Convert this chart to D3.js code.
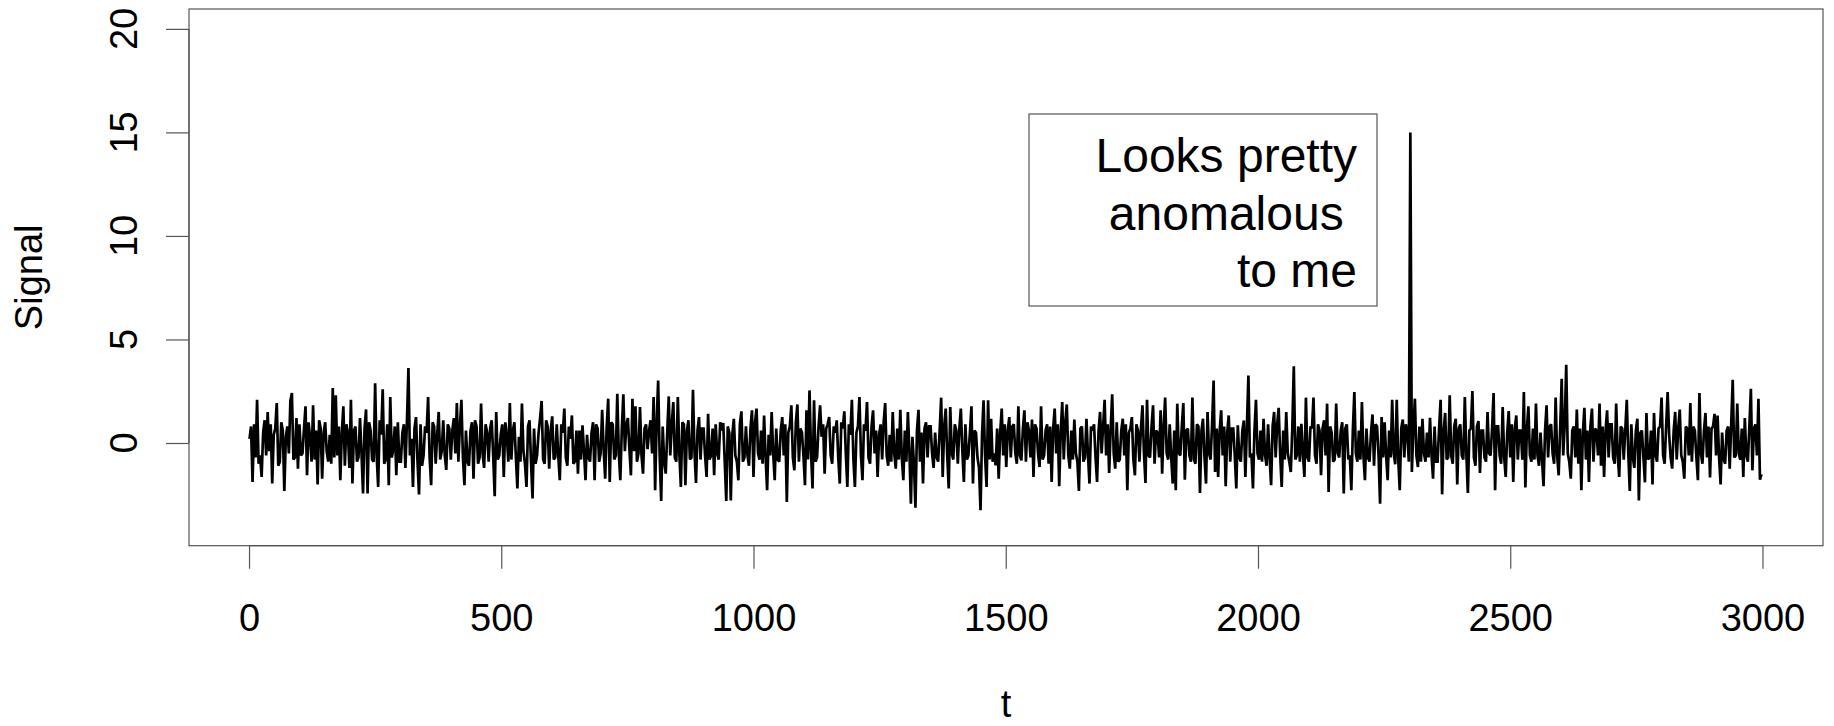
<!DOCTYPE html>
<html>
<head>
<meta charset="utf-8">
<script src="https://cdn.jsdelivr.net/npm/d3@7"></script>
<style>
  body { margin: 0; background: #fff; }
  text { font-family: "Liberation Sans", Arial, sans-serif; fill: #000; }
</style>
</head>
<body>
<script>
// canvas
const width = 1834;
const height = 726;

// data: signal, one value every tStep steps of t
const tStart = 1;
const tStep = 3;
const signal = [
  0.2, 0.8, -1.88, 0.9, -0.7, 2.09, -1.0, -0.6, -1.64, 0.5,
  1.1, -0.6, 1.5, -0.4, 0.9, -1.96, 0.4, 0.7, 1.93, -1.1,
  -0.9, 1.0, 0.6, -2.32, 0.3, 0.8, -0.5, 2.03, 2.41, -0.8,
  -0.7, 1.2, -1.24, 0.9, -0.6, -0.5, 0.7, 1.77, -1.56, 1.0,
  0.3, -0.9, 1.82, -0.8, 0.6, -2.0, 1.1, 0.7, -1.72, 0.5,
  1.0, -0.4, -0.9, 0.4, -1.0, 2.65, -0.7, 2.3, -0.6, 0.8,
  -1.8, 0.5, 1.77, -1.1, 0.9, 0.5, -1.2, 2.09, -1.96, 0.6,
  0.8, -0.9, -0.7, 1.2, -0.5, -2.44, 0.7, 1.62, -2.44, 1.0,
  0.6, -0.8, -0.9, 2.89, -0.6, -2.12, 1.1, 0.4, 2.59, -1.0,
  -0.8, 0.9, -2.04, 2.22, -0.7, -0.3, 0.8, -1.56, 1.0, -0.9,
  -0.9, 0.5, 0.9, -1.2, 1.0, 3.62, -0.6, 0.2, -2.12, 0.7,
  1.25, -0.9, -2.48, 0.9, -1.1, -0.6, 0.8, 0.5, 2.22, -0.7,
  -2.04, 1.0, 0.8, -1.0, 0.4, 1.5, -0.8, -0.4, 1.1, -0.6,
  -1.3, 0.9, 0.7, -0.8, 0.6, 1.2, -0.5, 1.93, -0.9, 0.8,
  2.09, -0.7, -2.04, 0.6, -0.9, -1.1, 0.6, 1.0, -1.72, 1.1,
  0.8, -1.0, -0.7, 1.9, -0.5, -1.2, 0.9, 0.5, -0.9, 0.7,
  1.1, -0.6, -2.57, 1.5, -0.8, -0.6, 0.4, 0.9, -1.64, 1.0,
  0.4, -0.9, 1.93, -0.8, 0.6, 1.0, -0.7, -2.2, 0.3, -0.9,
  1.9, -0.4, -1.0, -2.12, 0.8, 1.1, -0.9, -2.68, 0.7, -1.0,
  -0.6, 0.5, 1.2, 2.03, -0.8, -1.0, 1.1, 0.8, -1.24, 0.6,
  1.29, -0.8, -0.7, 0.9, -0.6, -1.8, 0.9, 0.5, 1.66, -0.7,
  -1.1, 0.8, 0.2, 1.33, -1.0, -0.9, 0.6, -1.48, 0.6, -0.8,
  0.85, -0.4, -1.8, 0.4, -0.7, -0.9, 0.5, 1.0, -1.8, 0.9,
  0.7, -0.9, -0.5, 1.6, -0.3, -1.72, 0.8, 2.14, -1.88, 1.0,
  0.9, -0.8, -0.6, 2.38, -0.5, -1.8, 0.7, 2.35, -0.4, 0.9,
  1.2, -0.3, -1.56, 2.14, -0.4, 1.77, -0.9, -0.5, 1.74, -0.6,
  -1.48, 0.7, 0.9, -0.3, 0.6, 1.1, -0.5, 2.22, -2.28, 1.0,
  3.02, -0.6, -2.8, 0.8, -0.9, -1.48, 0.5, 2.25, -0.6, 0.9,
  1.98, -0.7, -0.9, 2.22, -0.5, -2.12, 1.0, 0.9, -2.04, 0.6,
  1.1, -0.8, -0.7, 2.57, -0.4, -1.93, 0.6, 1.25, -0.8, 0.7,
  0.7, -0.6, -1.64, 1.41, -0.8, -0.6, 0.7, -1.56, 0.9, -0.5,
  -0.8, 1.0, 0.6, 0.96, -0.9, -2.8, 0.8, 0.5, -2.77, 0.4,
  1.17, -0.6, -0.9, -1.8, 0.9, 1.53, -0.9, -0.7, 0.8, -0.6,
  -1.1, 0.7, 1.58, -1.64, 1.0, 1.66, -0.5, -0.8, 0.6, -1.0,
  1.33, -0.7, -2.28, 0.4, -0.6, 1.5, -0.5, -1.8, 0.7, -0.8,
  -0.9, 0.6, 1.25, -0.6, 0.9, -2.85, 0.5, 0.8, 1.82, -0.7,
  -1.32, 1.0, 1.86, -0.9, 0.7, 0.5, -0.6, -2.04, 1.58, -0.8,
  2.54, -0.4, -2.2, 2.06, -0.9, -0.7, 0.8, 1.82, 0.3, 0.9,
  -1.48, 0.7, 0.9, 1.25, -0.6, -1.0, 0.8, 0.5, 1.09, -0.7,
  -1.96, 1.0, 0.7, 1.53, -0.5, -2.12, 0.9, 0.4, 2.09, -0.8,
  -2.12, 0.5, 0.8, 2.22, -0.6, -1.8, 0.9, 0.6, 1.98, -0.7,
  -1.0, 0.8, 1.58, -0.5, 0.6, -1.64, 0.4, 0.9, -0.8, 1.0,
  1.93, -0.6, -1.1, 0.4, -0.9, 1.5, -0.5, -1.24, 0.7, -0.8,
  1.6, -0.7, -1.8, 0.6, -0.9, 1.5, -0.4, -2.93, 0.3, -1.0,
  -3.12, 0.6, 1.6, -0.9, 0.5, -1.96, 0.7, 1.0, -0.7, 0.8,
  0.8, -0.5, -1.2, 0.5, -0.7, -0.9, 0.6, 2.19, -1.64, 0.8,
  1.66, -0.6, -2.2, 1.74, -0.5, -0.8, 0.9, 0.6, -1.0, 0.7,
  1.66, -0.4, -1.88, 0.9, -0.8, -0.6, 0.5, 1.77, -1.96, 0.6,
  0.5, -0.7, -1.2, -3.25, 0.4, 2.06, -0.6, -2.12, 2.06, -0.8,
  1.17, -0.9, -0.5, -1.08, 0.7, -1.72, 0.5, 1.66, -0.6, 0.9,
  -1.16, 0.6, 1.25, -0.7, 0.8, 0.9, -0.5, -1.0, 1.77, -0.6,
  -0.84, 0.7, 1.58, -0.9, 1.0, 0.6, -0.7, 1.13, -1.64, 0.9,
  0.7, -0.5, -1.16, 1.77, -0.8, -0.6, 0.6, 0.9, -1.0, 0.8,
  -1.88, 0.7, 1.66, -0.5, 0.9, -2.09, 0.6, 1.98, -0.8, 1.0,
  1.86, -0.6, -1.24, 0.6, -0.8, 1.13, -0.5, -0.9, -2.32, 0.7,
  0.8, -0.9, -0.7, 1.17, -0.6, -1.96, 0.8, 0.6, 0.9, -0.7,
  -1.88, 0.6, 1.5, -0.5, 0.8, 2.09, -0.6, 0.9, -1.45, 0.7,
  2.35, -0.5, -1.24, 1.0, -0.9, -0.8, 0.6, 1.17, -0.6, 0.9,
  -2.28, 0.5, 0.7, 1.25, -0.8, -1.56, 0.9, 0.6, -0.9, 0.7,
  1.82, -0.5, -1.93, 2.09, -0.6, -0.7, 0.8, 1.82, -1.0, 0.6,
  0.5, -0.7, 1.58, -1.48, 0.8, 2.19, -0.5, -0.8, 0.9, -0.7,
  -1.96, 0.6, -2.28, 1.9, -0.5, -0.6, 0.8, 1.93, -1.77, 0.6,
  0.7, -0.6, -0.9, 2.19, -0.8, -1.0, 0.9, 0.8, -2.41, 0.6,
  1.17, -0.7, -1.96, 1.5, -0.5, -0.8, 0.9, 3.02, -1.4, 0.7,
  -1.64, 0.6, 1.58, -0.6, 0.8, -2.09, 0.5, 1.33, -0.9, 0.7,
  0.7, -0.6, -2.2, 0.85, -0.7, -0.9, 0.6, 1.09, -1.64, 0.8,
  3.26, -0.7, -0.5, -2.2, 0.6, 2.09, -0.5, -0.8, 0.6, -0.9,
  1.17, -0.6, -1.1, 0.9, -0.7, -2.04, 0.8, 1.5, -0.7, 0.9,
  1.7, -0.6, -2.12, 0.6, -0.8, 1.5, -0.5, -0.9, -1.4, 0.7,
  3.7, -0.8, -0.6, 0.8, -0.9, 0.93, -0.5, -1.64, 2.19, -0.7,
  -0.9, 0.8, 0.7, 2.19, -0.6, -1.0, 0.9, 0.6, -1.56, 0.7,
  1.1, -0.6, 1.9, -2.36, 0.8, 0.5, -0.9, -0.8, 1.9, -0.5,
  -0.7, 0.6, 1.0, -2.44, 0.7, 0.9, -0.8, -0.6, -2.28, 0.6,
  2.46, -0.5, -0.9, 0.6, -0.8, 1.98, -0.6, -1.8, 0.7, -0.7,
  -0.9, 0.5, 1.38, -1.1, 0.9, 0.8, -0.6, -2.93, 1.25, -0.7,
  1.0, -0.6, -1.8, 0.6, -0.7, 2.09, -0.5, -1.03, 2.09, -0.8,
  -2.28, 0.7, 1.13, -0.7, 0.9, 0.5, -0.9, 15, -1.4, 0.7,
  2.14, -0.6, -1.16, 0.8, -0.9, 1.17, -0.5, -0.9, 0.5, -0.7,
  1.22, -0.6, -1.72, 0.8, -0.9, -0.9, 0.7, 2.09, -2.48, 0.6,
  1.45, -0.8, -0.7, 2.3, -0.6, -1.0, 0.8, 1.17, -2.0, 0.7,
  0.9, -0.6, -0.8, 2.22, -0.5, -2.41, 0.6, 0.7, 2.51, -0.7,
  -1.1, 0.8, 1.06, -1.45, 0.6, 0.6, -0.7, -0.9, 1.5, -0.5,
  -0.6, 0.7, 2.41, -2.28, 0.8, 0.8, -0.6, -1.0, 1.74, -0.7,
  -1.64, 0.5, 1.54, -0.7, 0.9, -1.88, 0.7, 1.33, -0.8, 0.6,
  0.6, -0.8, 2.46, -2.15, 0.7, 1.77, -0.6, -0.9, 0.7, -0.8,
  1.9, -0.6, -1.1, 0.5, -0.8, -2.09, 0.6, 1.82, -0.7, 0.8,
  0.9, -0.5, -1.0, 2.19, -0.6, -1.56, 0.7, 3.1, -0.6, 0.9,
  3.78, -0.5, -0.9, -1.72, 0.6, 0.8, -0.7, 1.61, -1.0, 0.7,
  -2.28, 0.5, 1.7, -0.8, 0.6, -1.88, 0.8, 1.66, -0.9, 0.7,
  0.6, -0.6, 1.9, -1.1, 0.8, -1.64, 0.6, 1.58, -0.7, 0.9,
  0.9, -0.7, -1.0, 1.9, -0.6, -1.64, 0.8, 0.7, -0.8, 0.6,
  2.09, -0.5, -2.32, 0.9, -0.7, -1.2, 0.6, 1.17, -2.77, 0.5,
  0.6, -0.7, -1.9, 1.45, -0.8, -0.7, 0.6, -2.0, 1.45, -0.6,
  -0.9, 0.7, 0.8, 2.19, -0.6, -1.0, 0.8, 2.46, 0.4, -0.7,
  -1.24, 0.6, 1.5, -0.8, 0.7, 1.61, -0.6, -0.9, -1.72, 0.8,
  0.7, -0.6, 1.93, -0.9, 0.8, 0.6, -0.7, -1.8, 2.41, -0.5,
  -1.0, 0.6, 1.45, -0.7, 0.8, -1.67, 0.7, 0.8, 1.41, -0.6,
  1.33, -0.7, -2.0, 0.5, -0.8, -1.0, 0.6, 0.8, -1.24, 0.9,
  3.05, -0.7, -0.6, 1.9, -0.5, -0.8, 0.7, -1.64, 1.2, -0.6,
  -0.9, 0.8, 2.62, -1.32, 0.7, 0.9, -0.6, 2.14, -1.77, -1.5
];

// axes
const xTicks = [0, 500, 1000, 1500, 2000, 2500, 3000];
const yTicks = [0, 5, 10, 15, 20];
const xRange = [1, 3000];
const yLim = [-4, 20];
const xLabel = 't';
const yLabel = 'Signal';
const note = ['Looks pretty', 'anomalous ', 'to me'];

// plot region (R style: limits padded 4% each side)
const plot = { left: 189, right: 1823, top: 9, bottom: 545.7 };
const pad = function(r) {
  const d = (r[1] - r[0]) * 0.04;
  return [r[0] - d, r[1] + d];
};

const xScale = d3.scaleLinear().domain(pad(xRange)).range([plot.left, plot.right]);
const yScale = d3.scaleLinear().domain(pad(yLim)).range([plot.bottom, plot.top]);

const svg = d3
  .select('body')
  .append('svg')
  .attr('width', width)
  .attr('height', height);

const axisColor = '#555';
const fontSize = 38;

// x axis
const gx = svg
  .append('g')
  .attr('transform', 'translate(0,' + plot.bottom + ')')
  .call(d3.axisBottom(xScale).tickValues(xTicks).tickSize(23).tickPadding(35).tickFormat(d3.format('d')));
gx.select('.domain').attr('stroke', axisColor).attr('stroke-width', 1.2)
  .attr('d', 'M' + xScale(xTicks[0]) + ',0H' + xScale(xTicks[xTicks.length - 1]));
gx.selectAll('.tick line').attr('stroke', axisColor).attr('stroke-width', 1.2);
gx.selectAll('.tick text').attr('font-size', fontSize).attr('font-family', null).attr('fill', '#000');

// y axis
const gy = svg
  .append('g')
  .attr('transform', 'translate(' + plot.left + ',0)')
  .call(d3.axisLeft(yScale).tickValues(yTicks).tickSize(23).tickFormat(''));
gy.select('.domain').attr('stroke', axisColor).attr('stroke-width', 1.2)
  .attr('d', 'M0,' + yScale(yTicks[0]) + 'V' + yScale(yTicks[yTicks.length - 1]));
gy.selectAll('.tick line').attr('stroke', axisColor).attr('stroke-width', 1.2);

// y tick labels, rotated like R's las=0
svg
  .selectAll('.ylab')
  .data(yTicks)
  .enter()
  .append('text')
  .attr('class', 'ylab')
  .attr('transform', function(d) {
    return 'translate(136.7,' + yScale(d) + ') rotate(-90)';
  })
  .attr('text-anchor', 'middle')
  .attr('font-size', fontSize)
  .text(function(d) {
    return d;
  });

// box
svg
  .append('rect')
  .attr('x', plot.left)
  .attr('y', plot.top)
  .attr('width', plot.right - plot.left)
  .attr('height', plot.bottom - plot.top)
  .attr('fill', 'none')
  .attr('stroke', axisColor)
  .attr('stroke-width', 1.2);

// signal line
const line = d3
  .line()
  .x(function(d, i) {
    return xScale(tStart + i * tStep);
  })
  .y(function(d) {
    return yScale(d);
  });

svg
  .append('path')
  .datum(signal)
  .attr('d', line)
  .attr('fill', 'none')
  .attr('stroke', '#000')
  .attr('stroke-width', 2.7)
  .attr('stroke-linejoin', 'miter')
  .attr('stroke-miterlimit', 2);

// axis titles
svg
  .append('text')
  .attr('x', (plot.left + plot.right) / 2)
  .attr('y', 717)
  .attr('text-anchor', 'middle')
  .attr('font-size', fontSize)
  .text(xLabel);

svg
  .append('text')
  .attr('transform', 'translate(42,' + (plot.top + plot.bottom) / 2 + ') rotate(-90)')
  .attr('text-anchor', 'middle')
  .attr('font-size', fontSize)
  .text(yLabel);

// annotation box
svg
  .append('rect')
  .attr('x', 1029)
  .attr('y', 114)
  .attr('width', 348)
  .attr('height', 192)
  .attr('fill', '#fff')
  .attr('stroke', axisColor)
  .attr('stroke-width', 1.2);

svg
  .selectAll('.note')
  .data(note)
  .enter()
  .append('text')
  .attr('class', 'note')
  .attr('x', 1357)
  .attr('y', function(d, i) {
    return 172 + i * 57.5;
  })
  .attr('text-anchor', 'end')
  .attr('font-size', 48)
  .style('white-space', 'pre')
  .text(function(d) {
    return d;
  });
</script>
</body>
</html>
